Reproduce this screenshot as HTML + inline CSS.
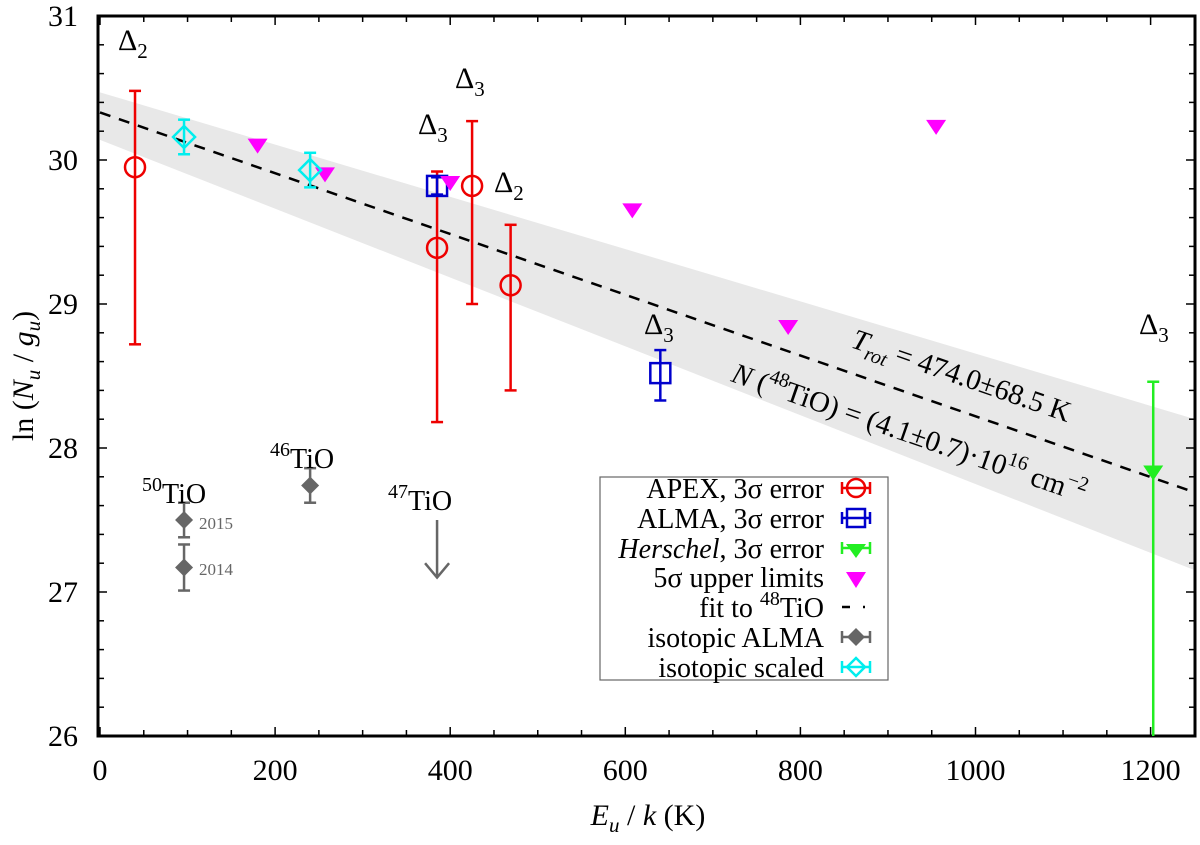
<!DOCTYPE html>
<html><head><meta charset="utf-8"><style>
html,body{margin:0;padding:0;background:#fff}
svg,svg text,svg tspan{font-family:"Liberation Serif","Times New Roman",Times,"DejaVu Serif",serif}
</style></head><body>
<svg id="chart" width="1200" height="840" viewBox="0 0 1200 840">
<g id="band"></g>
<g id="axes"></g>
<g id="marks"></g>
<g id="ann">
<text x="118" y="50" font-size="30">Δ<tspan font-size="21" dy="8">2</tspan></text>
<text x="455" y="88" font-size="30">Δ<tspan font-size="21" dy="8">3</tspan></text>
<text x="418" y="134" font-size="30">Δ<tspan font-size="21" dy="8">3</tspan></text>
<text x="494" y="192" font-size="30">Δ<tspan font-size="21" dy="8">2</tspan></text>
<text x="644" y="334" font-size="30">Δ<tspan font-size="21" dy="8">3</tspan></text>
<text x="1139" y="334" font-size="30">Δ<tspan font-size="21" dy="8">3</tspan></text>
<text x="142" y="503" font-size="28"><tspan font-size="20" dy="-12">50</tspan><tspan dy="12">TiO</tspan></text>
<text x="270" y="468" font-size="28"><tspan font-size="20" dy="-12">46</tspan><tspan dy="12">TiO</tspan></text>
<text x="388" y="510" font-size="28"><tspan font-size="20" dy="-12">47</tspan><tspan dy="12">TiO</tspan></text>
<text x="199" y="529" font-size="17" fill="#666">2015</text>
<text x="199" y="575" font-size="17" fill="#666">2014</text>
<g transform="translate(850,347) rotate(19.1)"><text font-size="29"><tspan font-style="italic">T</tspan><tspan font-size="20" dy="7" font-style="italic">rot</tspan><tspan dy="-7"> = 474.0±68.5 K</tspan></text></g>
<g transform="translate(730,381) rotate(19.1)"><text font-size="29"><tspan font-style="italic">N</tspan> (<tspan font-size="20" dy="-12">48</tspan><tspan dy="12">TiO) = (4.1±0.7)·10</tspan><tspan font-size="20" dy="-12">16</tspan><tspan dy="12"> cm</tspan><tspan font-size="20" dy="-12">−2</tspan></text></g>
</g>
<g id="legend">
<rect x="600" y="477" width="288" height="203" fill="#fff" stroke="#666" stroke-width="1.2"/>
<g font-size="28" text-anchor="end">
<text x="824" y="498">APEX, 3σ error</text>
<text x="824" y="528">ALMA, 3σ error</text>
<text x="824" y="558"><tspan font-style="italic">Herschel</tspan>, 3σ error</text>
<text x="824" y="587">5σ upper limits</text>
<text x="824" y="617">fit to <tspan font-size="20" dy="-12">48</tspan><tspan dy="12">TiO</tspan></text>
<text x="824" y="647">isotopic ALMA</text>
<text x="824" y="677">isotopic scaled</text>
</g>
<g stroke-width="2.5" fill="none">
<line x1="842" y1="488" x2="870" y2="488" stroke="#e00"/><line x1="842" y1="482" x2="842" y2="494" stroke="#e00"/><line x1="870" y1="482" x2="870" y2="494" stroke="#e00"/><circle cx="856" cy="488" r="9" stroke="#e00"/>
<line x1="842" y1="518" x2="870" y2="518" stroke="#00c"/><line x1="842" y1="512" x2="842" y2="524" stroke="#00c"/><line x1="870" y1="512" x2="870" y2="524" stroke="#00c"/><rect x="847" y="509" width="18" height="18" stroke="#00c"/>
<line x1="842" y1="548" x2="870" y2="548" stroke="#2e2"/><line x1="842" y1="542" x2="842" y2="554" stroke="#2e2"/><line x1="870" y1="542" x2="870" y2="554" stroke="#2e2"/><path d="M846 544 L866 544 L856 558 Z" fill="#2e2" stroke="none"/>
<path d="M846 572 L866 572 L856 588 Z" fill="#f0f" stroke="none"/>
<line x1="842" y1="607" x2="850" y2="607" stroke="#000"/><line x1="863" y1="607" x2="865" y2="607" stroke="#000"/>
<line x1="842" y1="637" x2="870" y2="637" stroke="#666"/><line x1="842" y1="631" x2="842" y2="643" stroke="#666"/><line x1="870" y1="631" x2="870" y2="643" stroke="#666"/><path d="M856 628 L865 637 L856 646 L847 637 Z" fill="#666" stroke="none"/>
<line x1="842" y1="667" x2="870" y2="667" stroke="#0ee"/><line x1="842" y1="661" x2="842" y2="673" stroke="#0ee"/><line x1="870" y1="661" x2="870" y2="673" stroke="#0ee"/><path d="M856 658 L865 667 L856 676 L847 667 Z" stroke="#0ee"/>
</g>
</g>
<text x="0" y="0" font-size="30" text-anchor="middle" transform="translate(33,376) rotate(-90)">ln (<tspan font-style="italic">N</tspan><tspan font-style="italic" font-size="21" dy="7">u</tspan><tspan dy="-7"> / </tspan><tspan font-style="italic">g</tspan><tspan font-style="italic" font-size="21" dy="7">u</tspan><tspan dy="-7">)</tspan></text>
<text x="648" y="825" font-size="30" text-anchor="middle"><tspan font-style="italic">E</tspan><tspan font-style="italic" font-size="21" dy="7">u</tspan><tspan dy="-7"> / </tspan><tspan font-style="italic">k</tspan> (K)</text>
</svg>
<script>
const xTicks=[0,200,400,600,800,1000,1200];
const yTicks=[26,27,28,29,30,31];
const apexX=[40,385,425,469], apexY=[29.95,29.39,29.82,29.13], apexLo=[28.72,28.18,29.0,28.4], apexHi=[30.48,29.92,30.27,29.55];
const almaX=[385,640], almaY=[29.82,28.52], almaLo=[29.76,28.33], almaHi=[29.88,28.68];
const herX=[1203], herY=[27.83], herLo=[26.0], herHi=[28.46];
const ulX=[180,257,400,608,786,955], ulY=[30.1,29.9,29.84,29.65,28.84,30.23];
const isoX=[96,96,240], isoY=[27.5,27.17,27.74], isoErr=[0.12,0.16,0.12];
const scX=[96,240], scY=[30.16,29.93], scErr=[0.12,0.12];
const fitIntercept=30.33, fitTrot=474.0;
const bandLoStart=30.14, bandHiStart=30.47, bandLoEnd=27.15, bandHiEnd=28.2;
const xMin=0,xMax=1251;

const L=98,R=1195,T=16,B=736;
const X=v=>100+v*0.8755;
const Y=v=>T+(31-v)*144;
const NS='http://www.w3.org/2000/svg';
function mk(p,tag,at){const e=document.createElementNS(NS,tag);for(const k in at)e.setAttribute(k,at[k]);p.appendChild(e);return e;}
const axes=document.getElementById('axes'),marks=document.getElementById('marks'),band=document.getElementById('band');

const bp=mk(band,'path',{d:`M${X(xMin)} ${Y(bandHiStart)} L${X(xMax)} ${Y(bandHiEnd)} L${X(xMax)} ${Y(bandLoEnd)} L${X(xMin)} ${Y(bandLoStart)} Z`,fill:'#e8e8e8'});


const fl=mk(band,'line',{x1:X(xMin),y1:Y(fitIntercept),x2:X(xMax),y2:Y(fitIntercept-xMax/fitTrot),stroke:'#000','stroke-width':2.5,'stroke-dasharray':'11,9'});



const fr=mk(axes,'rect',{x:L,y:T,width:R-L,height:B-T,fill:'none',stroke:'#000','stroke-width':3});


for(let v=0;v<=1250;v+=50){const big=v%200===0;const h=big?9:6;
 mk(axes,'line',{x1:X(v),y1:B,x2:X(v),y2:B-h,stroke:'#000','stroke-width':1.5});
 mk(axes,'line',{x1:X(v),y1:T,x2:X(v),y2:T+h,stroke:'#000','stroke-width':1.5});}
xTicks.forEach(v=>{const t=mk(axes,'text',{x:X(v),y:780,'font-size':30,'text-anchor':'middle'});t.textContent=v;
 
 });
for(let i=0;i<=25;i++){const v=26+i*0.2;const big=i%5===0;const h=big?9:6;
 mk(axes,'line',{x1:L,y1:Y(v),x2:L+h,y2:Y(v),stroke:'#000','stroke-width':1.5});
 mk(axes,'line',{x1:R,y1:Y(v),x2:R-h,y2:Y(v),stroke:'#000','stroke-width':1.5});}
yTicks.forEach(v=>{const t=mk(axes,'text',{x:78,y:Y(v)+10,'font-size':30,'text-anchor':'end'});t.textContent=v;
 
 });

function err(x,lo,hi,c){mk(marks,'line',{x1:X(x),y1:Y(Math.max(lo,26)),x2:X(x),y2:Y(hi),stroke:c,'stroke-width':2.5});
 mk(marks,'line',{x1:X(x)-6,y1:Y(hi),x2:X(x)+6,y2:Y(hi),stroke:c,'stroke-width':2.5});
 if(lo>26)mk(marks,'line',{x1:X(x)-6,y1:Y(lo),x2:X(x)+6,y2:Y(lo),stroke:c,'stroke-width':2.5});}
apexX.forEach((x,i)=>{err(x,apexLo[i],apexHi[i],'#e00');
 const c=mk(marks,'circle',{cx:X(x),cy:Y(apexY[i]),r:10,fill:'none',stroke:'#e00','stroke-width':2.5});
 
 });
almaX.forEach((x,i)=>{err(x,almaLo[i],almaHi[i],'#00c');
 const r=mk(marks,'rect',{x:X(x)-10,y:Y(almaY[i])-10,width:20,height:20,fill:'none',stroke:'#00c','stroke-width':2.5});
 
 });
herX.forEach((x,i)=>{err(x,herLo[i],herHi[i],'#2e2');
 const p=mk(marks,'path',{d:`M${X(x)-10} ${Y(herY[i])-7} L${X(x)+10} ${Y(herY[i])-7} L${X(x)} ${Y(herY[i])+8} Z`,fill:'#2e2'});
 
 });
ulX.forEach((x,i)=>{const p=mk(marks,'path',{d:`M${X(x)-10} ${Y(ulY[i])-7} L${X(x)+10} ${Y(ulY[i])-7} L${X(x)} ${Y(ulY[i])+8} Z`,fill:'#f0f'});
 
 });
isoX.forEach((x,i)=>{err(x,isoY[i]-isoErr[i],isoY[i]+isoErr[i],'#666');
 const cx=X(x),cy=Y(isoY[i]);
 const p=mk(marks,'path',{d:`M${cx} ${cy-9} L${cx+9} ${cy} L${cx} ${cy+9} L${cx-9} ${cy} Z`,fill:'#666'});
 
 });
scX.forEach((x,i)=>{err(x,scY[i]-scErr[i],scY[i]+scErr[i],'#0ee');
 const cx=X(x),cy=Y(scY[i]);
 const p=mk(marks,'path',{d:`M${cx} ${cy-11} L${cx+11} ${cy} L${cx} ${cy+11} L${cx-11} ${cy} Z`,fill:'none',stroke:'#0ee','stroke-width':2.5});
 
 });
const ar=mk(marks,'path',{d:`M${X(385)} ${Y(27.5)} L${X(385)} ${Y(27.1)} M${X(385)-12} ${Y(27.2)} L${X(385)} ${Y(27.1)} L${X(385)+12} ${Y(27.2)}`,fill:'none',stroke:'#666','stroke-width':2.5});


</script>
</body></html>
